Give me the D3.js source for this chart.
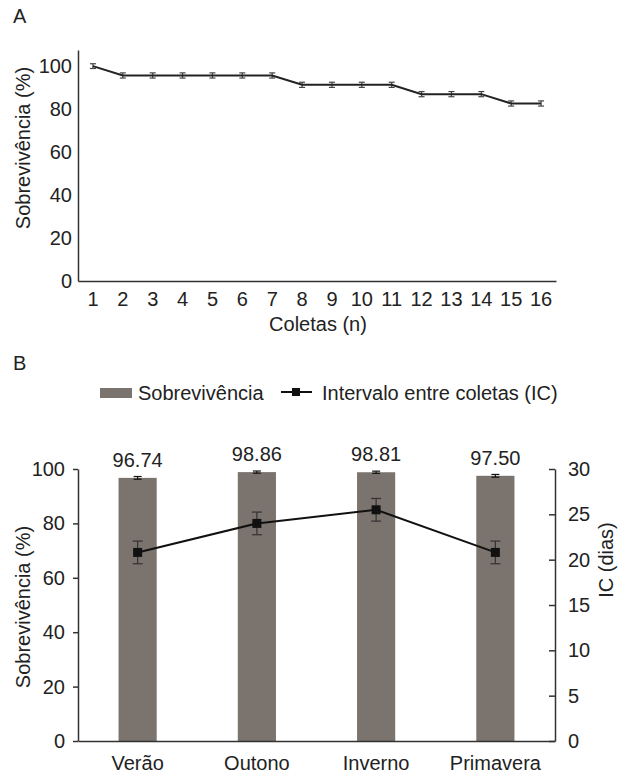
<!DOCTYPE html>
<html>
<head>
<meta charset="utf-8">
<script src="https://cdn.jsdelivr.net/npm/d3@7"></script>
<style>
  body { margin: 0; background: #fff; }
  text { font-family: "Liberation Sans", Arial, sans-serif; fill: #222; }
</style>
</head>
<body>
<svg id="chart" width="619" height="774"></svg>
<script>
// Panel A: survival along the collections
const coletas = ["1","2","3","4","5","6","7","8","9","10","11","12","13","14","15","16"];
const sobrevA = [100, 95.65, 95.65, 95.65, 95.65, 95.65, 95.65, 91.3, 91.3, 91.3, 91.3, 86.96, 86.96, 86.96, 82.61, 82.61];
const erroA = [1.1, 1.2, 1.2, 1.2, 1.2, 1.2, 1.2, 1.2, 1.2, 1.2, 1.2, 1.2, 1.2, 1.2, 1.2, 1.2];
const ticksA = [0, 20, 40, 60, 80, 100];

// Panel B: survival and interval between collections by season
const estacoes = ["Verão", "Outono", "Inverno", "Primavera"];
const sobrevB = [96.74, 98.86, 98.81, 97.50];
const erroSobrevB = [0.5, 0.4, 0.4, 0.5];
const intervalo = [20.8, 24.0, 25.5, 20.8];
const erroIntervalo = [1.25, 1.25, 1.25, 1.25];
const ticksBLeft = [0, 20, 40, 60, 80, 100];
const ticksBRight = [0, 5, 10, 15, 20, 25, 30];

const svg = d3.select("#chart");
const fontSize = 20;
const axisColor = "#333";

function styleAxis(g) {
    g.selectAll("path, line").attr("stroke", axisColor).attr("stroke-width", 1.5);
    g.selectAll("text").style("font-size", fontSize + "px").attr("fill", "#222");
}

// ---------- Panel A ----------
let xA = d3.scaleBand().domain(coletas).range([78, 556]);
let yA = d3.scaleLinear().domain([0, 107.5]).range([281, 50]);

svg.append("text").attr("x", 13).attr("y", 23).style("font-size", "20px").text("A");

svg.append("g")
    .attr("transform", "translate(78,0)")
    .call(d3.axisLeft(yA).tickValues(ticksA).tickSize(0).tickPadding(6))
    .call(styleAxis);

svg.append("g")
    .attr("transform", "translate(0,281)")
    .call(d3.axisBottom(xA).tickSize(0).tickPadding(11))
    .call(styleAxis);

svg.append("text")
    .attr("transform", "translate(30,148) rotate(-90)")
    .attr("text-anchor", "middle")
    .style("font-size", fontSize + "px")
    .text("Sobrevivência (%)");

svg.append("text")
    .attr("x", 318).attr("y", 331)
    .attr("text-anchor", "middle")
    .style("font-size", fontSize + "px")
    .text("Coletas (n)");

let cxA = (d, i) => xA(coletas[i]) + xA.bandwidth() / 2;

// error bars
let errA = svg.append("g").attr("stroke", "#444").attr("stroke-width", 1.2);
sobrevA.forEach(function(v, i) {
    let x = cxA(v, i);
    errA.append("line").attr("x1", x).attr("x2", x)
        .attr("y1", yA(v - erroA[i])).attr("y2", yA(v + erroA[i]));
    errA.append("line").attr("x1", x - 3).attr("x2", x + 3)
        .attr("y1", yA(v - erroA[i])).attr("y2", yA(v - erroA[i]));
    errA.append("line").attr("x1", x - 3).attr("x2", x + 3)
        .attr("y1", yA(v + erroA[i])).attr("y2", yA(v + erroA[i]));
});

svg.append("path")
    .datum(sobrevA)
    .attr("fill", "none")
    .attr("stroke", "#222")
    .attr("stroke-width", 2)
    .attr("d", d3.line().x(cxA).y(d => yA(d)));

// ---------- Panel B ----------
let xB = d3.scaleBand().domain(estacoes).range([78, 555]).paddingInner(0.68).paddingOuter(0.34);
let yB = d3.scaleLinear().domain([0, 100]).range([741, 469]);
let yB2 = d3.scaleLinear().domain([0, 30]).range([741, 469]);

svg.append("text").attr("x", 13).attr("y", 370).style("font-size", "20px").text("B");

// legend
let legend = svg.append("g");
legend.append("rect").attr("x", 100).attr("y", 388).attr("width", 32).attr("height", 10).attr("fill", "#7b736d");
legend.append("text").attr("x", 138).attr("y", 400).style("font-size", "20px").text("Sobrevivência");
legend.append("line").attr("x1", 281).attr("x2", 312).attr("y1", 392).attr("y2", 392)
    .attr("stroke", "#111").attr("stroke-width", 2);
legend.append("rect").attr("x", 292).attr("y", 388).attr("width", 8).attr("height", 8).attr("fill", "#111");
legend.append("text").attr("x", 322).attr("y", 400).style("font-size", "20px").text("Intervalo entre coletas (IC)");

// bars
svg.append("g")
    .selectAll("rect")
    .data(sobrevB)
    .join("rect")
    .attr("x", (d, i) => xB(estacoes[i]))
    .attr("width", xB.bandwidth())
    .attr("y", d => yB(d))
    .attr("height", d => 741 - yB(d))
    .attr("fill", "#7b736d");

let cxB = (d, i) => xB(estacoes[i]) + xB.bandwidth() / 2;

// bar error bars
let errB = svg.append("g").attr("stroke", "#111").attr("stroke-width", 1.2);
sobrevB.forEach(function(v, i) {
    let x = cxB(v, i);
    let lo = yB(v - erroSobrevB[i]), hi = yB(v + erroSobrevB[i]);
    errB.append("line").attr("x1", x).attr("x2", x).attr("y1", lo).attr("y2", hi);
    errB.append("line").attr("x1", x - 4).attr("x2", x + 4).attr("y1", lo).attr("y2", lo);
    errB.append("line").attr("x1", x - 4).attr("x2", x + 4).attr("y1", hi).attr("y2", hi);
});

// value labels
svg.append("g")
    .selectAll("text")
    .data(sobrevB)
    .join("text")
    .attr("x", cxB)
    .attr("y", d => yB(d) - 11)
    .attr("text-anchor", "middle")
    .style("font-size", "20px")
    .text(d => d.toFixed(2));

// axes
svg.append("g")
    .attr("transform", "translate(78,0)")
    .call(d3.axisLeft(yB).tickValues(ticksBLeft).tickSize(5).tickSizeOuter(0).tickPadding(8))
    .call(styleAxis);

svg.append("g")
    .attr("transform", "translate(555,0)")
    .call(d3.axisRight(yB2).tickValues(ticksBRight).tickSize(-6).tickSizeOuter(0).tickPadding(13))
    .call(styleAxis);

svg.append("g")
    .attr("transform", "translate(0,741)")
    .call(d3.axisBottom(xB).tickSize(0).tickPadding(15))
    .call(styleAxis);

svg.append("text")
    .attr("transform", "translate(30,607) rotate(-90)")
    .attr("text-anchor", "middle")
    .style("font-size", fontSize + "px")
    .text("Sobrevivência (%)");

svg.append("text")
    .attr("transform", "translate(613,560) rotate(-90)")
    .attr("text-anchor", "middle")
    .style("font-size", fontSize + "px")
    .text("IC (dias)");

// interval line with error bars
let errIC = svg.append("g").attr("stroke", "#333").attr("stroke-width", 1.2);
intervalo.forEach(function(v, i) {
    let x = cxB(v, i);
    let lo = yB2(v - erroIntervalo[i]), hi = yB2(v + erroIntervalo[i]);
    errIC.append("line").attr("x1", x).attr("x2", x).attr("y1", lo).attr("y2", hi);
    errIC.append("line").attr("x1", x - 5).attr("x2", x + 5).attr("y1", lo).attr("y2", lo);
    errIC.append("line").attr("x1", x - 5).attr("x2", x + 5).attr("y1", hi).attr("y2", hi);
});

svg.append("path")
    .datum(intervalo)
    .attr("fill", "none")
    .attr("stroke", "#111")
    .attr("stroke-width", 2)
    .attr("d", d3.line().x(cxB).y(d => yB2(d)));

svg.append("g")
    .selectAll("rect")
    .data(intervalo)
    .join("rect")
    .attr("x", (d, i) => cxB(d, i) - 4.5)
    .attr("y", d => yB2(d) - 4.5)
    .attr("width", 9)
    .attr("height", 9)
    .attr("fill", "#111");
</script>
</body>
</html>
